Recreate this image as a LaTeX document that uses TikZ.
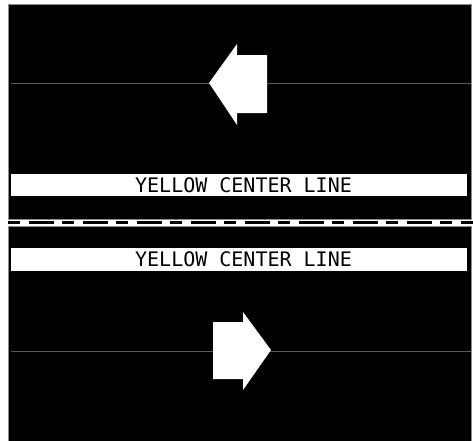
\documentclass[tikz,border=0pt]{standalone}
\usepackage{fontspec}
\newfontfamily\signfont{DejaVu Sans Mono}
\begin{document}
\begin{tikzpicture}[x=1pt,y=-1pt,
  road/.style={fill=black,draw=black!45,line width=0.6pt},
  band/.style={fill=white,draw=none},
  bandtext/.style={font=\signfont\fontsize{20}{20}\selectfont,text=black,inner sep=0pt},
  lane/.style={draw=black!65!white,line width=0.7pt},
  arrowshape/.style={fill=white,draw=none},
  centerdash/.style={draw=black,line width=3pt,dash pattern=on 25pt off 8pt on 12pt off 9pt,dash phase=25pt}]
\useasboundingbox (0,0) rectangle (473,440);
% road halves
\path[road] (8,4) rectangle (471,219);
\path[road] (8,226) rectangle (471,441);
% lane lines
\coordinate (l1a) at (11,83);
\coordinate (l1b) at (471,83);
\coordinate (l2a) at (11,351);
\coordinate (l2b) at (471,351);
\draw[lane] (l1a) -- (l1b);
\draw[lane] (l2a) -- (l2b);
% white bands with text
\path[band] (11,174) rectangle (467,196);
\path[band] (11,248) rectangle (467,271);
\node[bandtext] (t1) at (243.5,185.5) {YELLOW CENTER LINE};
\node[bandtext] (t2) at (243.5,259.5) {YELLOW CENTER LINE};
% dashed separator
\coordinate (da) at (0,222);
\coordinate (db) at (473,222);
\draw[centerdash] (da) -- (db);
% arrows
\path[arrowshape] (209,83) -- (237,44) -- (237,55) -- (267,55) -- (267,113) -- (237,113) -- (237,125) -- cycle;
\path[arrowshape] (271,350) -- (243,390) -- (243,379) -- (213,379) -- (213,322) -- (243,322) -- (243,312) -- cycle;
\end{tikzpicture}
\end{document}
